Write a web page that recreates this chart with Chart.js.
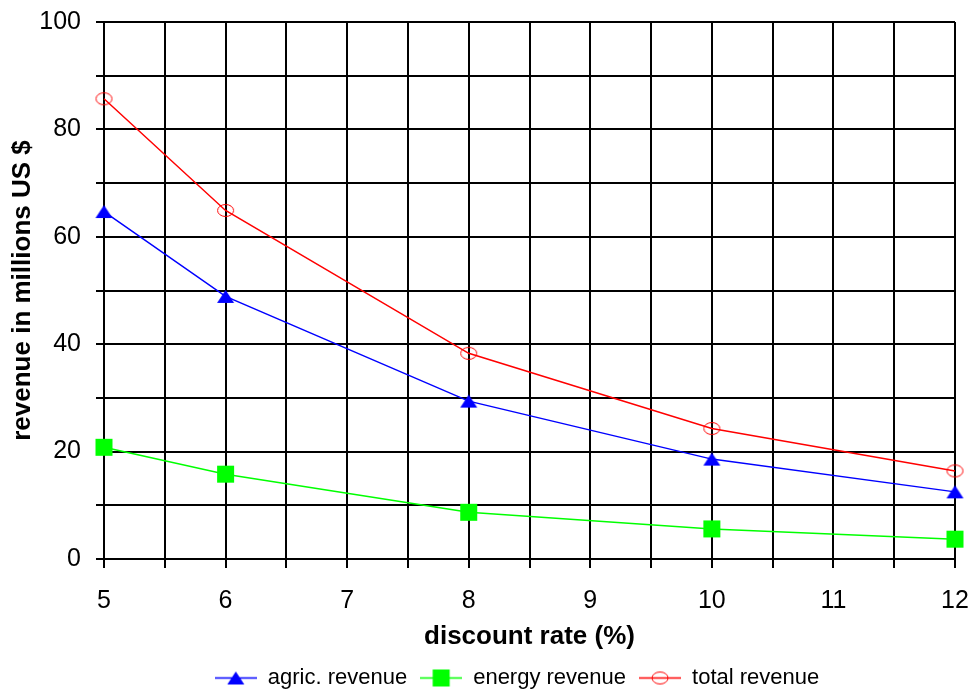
<!DOCTYPE html>
<html>
<head>
<meta charset="utf-8">
<script src="https://cdn.jsdelivr.net/npm/chart.js@4/dist/chart.umd.min.js"></script>
<style>
  html, body { margin: 0; padding: 0; background: #fff; }
  #wrap { width: 971px; height: 693px; }
</style>
</head>
<body>
<div id="wrap"><canvas id="c" width="971" height="693"></canvas></div>
<script>
// discount rates (%)
const rates = [5, 6, 8, 10, 12];
// revenue in millions US $
const agricRevenue  = [64.7, 48.9, 29.4, 18.6, 12.5];
const energyRevenue = [20.8, 15.8, 8.7, 5.6, 3.7];
const totalRevenue  = [85.7, 64.9, 38.3, 24.3, 16.4];

const seriesNames = ['agric. revenue', 'energy revenue', 'total revenue'];
const xTitle = 'discount rate (%)';
const yTitle = 'revenue in millions US $';

const FONT = '"Liberation Sans", Arial, sans-serif';
const BLUE = '#0000ff', GREEN = '#00ff00', RED = '#ff0000';

function pts(vals) { return rates.map((r, i) => ({ x: r, y: vals[i] })); }

// marker glyphs drawn onto small canvases
function drawMarker(g, kind, color, cx, cy) {
  if (kind === 'triangle') {
    g.fillStyle = color;
    g.beginPath(); g.moveTo(cx, cy - 6.5); g.lineTo(cx + 8.5, cy + 6.5); g.lineTo(cx - 8.5, cy + 6.5); g.closePath(); g.fill();
  } else if (kind === 'rect') {
    g.fillStyle = color; g.fillRect(cx - 8.5, cy - 8.5, 17, 17);
  } else {
    // open ellipse, the line stays visible through it
    g.strokeStyle = color; g.lineWidth = 1;
    g.beginPath(); g.ellipse(cx, cy, 8, 6, 0, 0, Math.PI * 2); g.stroke();
  }
}
function markerImage(kind, color) {
  const cv = document.createElement('canvas');
  cv.width = 19; cv.height = 19;
  drawMarker(cv.getContext('2d'), kind, color, 9.5, 9.5);
  return cv;
}
// legend swatch: a line segment with the series marker on it
function swatch(kind, color) {
  const cv = document.createElement('canvas');
  cv.width = 42; cv.height = 19;
  const g = cv.getContext('2d');
  g.strokeStyle = color; g.lineWidth = 1.5;
  g.beginPath(); g.moveTo(0, 9.5); g.lineTo(42, 9.5); g.stroke();
  drawMarker(g, kind, color, 21, 9.5);
  return cv;
}

const markers = [markerImage('triangle', BLUE), markerImage('rect', GREEN), markerImage('ellipse', RED)];
const swatches = [swatch('triangle', BLUE), swatch('rect', GREEN), swatch('ellipse', RED)];

// nudges the legend row to its place under the plot
const legendShift = {
  id: 'legendShift',
  afterLayout(chart) {
    const lg = chart.legend;
    const dx = 36, dy = 6;
    lg.left += dx; lg.right += dx; lg.top += dy; lg.bottom += dy;
  }
};

new Chart(document.getElementById('c'), {
  type: 'line',
  data: {
    datasets: [
      { label: seriesNames[0], data: pts(agricRevenue), borderColor: BLUE, backgroundColor: BLUE,
        borderWidth: 1.5, pointStyle: markers[0], clip: false },
      { label: seriesNames[1], data: pts(energyRevenue), borderColor: GREEN, backgroundColor: GREEN,
        borderWidth: 1.5, pointStyle: markers[1], clip: false },
      { label: seriesNames[2], data: pts(totalRevenue), borderColor: RED, backgroundColor: RED,
        borderWidth: 1.5, pointStyle: markers[2], clip: false }
    ]
  },
  plugins: [legendShift],
  options: {
    responsive: false,
    animation: false,
    layout: { padding: { left: 7, right: 16, top: 22, bottom: 0 } },
    plugins: {
      tooltip: { enabled: false },
      legend: {
        position: 'bottom',
        labels: {
          usePointStyle: true,
          pointStyleWidth: 42,
          padding: 13,
          color: '#000',
          font: { family: FONT, size: 22 },
          generateLabels(chart) {
            return chart.data.datasets.map((ds, i) => ({
              text: ds.label, pointStyle: swatches[i], fontColor: '#000',
              strokeStyle: ds.borderColor, fillStyle: ds.backgroundColor,
              lineWidth: 0, hidden: false, datasetIndex: i
            }));
          }
        }
      }
    },
    scales: {
      x: {
        type: 'linear', min: 5, max: 12,
        afterFit(scale) {
          scale.height = 693 - 559 - scale.chart.legend.height;
          scale.paddingLeft = 0; scale.paddingRight = 0;
        },
        ticks: {
          stepSize: 0.5, autoSkip: false, maxRotation: 0, color: '#000',
          font: { family: FONT, size: 25 }, padding: 18,
          callback: v => Number.isInteger(v) ? String(v) : ''
        },
        grid: { color: '#000', lineWidth: 2, tickLength: 9 },
        border: { color: '#000', width: 2 },
        title: { display: true, text: xTitle, color: '#000',
                 font: { family: FONT, size: 26, weight: 'bold' }, padding: { top: 0, bottom: -4 } }
      },
      y: {
        min: 0, max: 100,
        afterFit(scale) {
          scale.width = 97;
          scale.paddingTop = 0; scale.paddingBottom = 0;
        },
        ticks: {
          stepSize: 10, autoSkip: false, color: '#000',
          font: { family: FONT, size: 25 }, padding: 15,
          callback: v => (v % 20 === 0) ? String(v) : ''
        },
        grid: { color: '#000', lineWidth: 2, tickLength: 8 },
        border: { color: '#000', width: 2 },
        title: { display: true, text: yTitle, color: '#000',
                 font: { family: FONT, size: 26, weight: 'bold' }, padding: { top: 0, bottom: 0 } }
      }
    }
  }
});
</script>
</body>
</html>
